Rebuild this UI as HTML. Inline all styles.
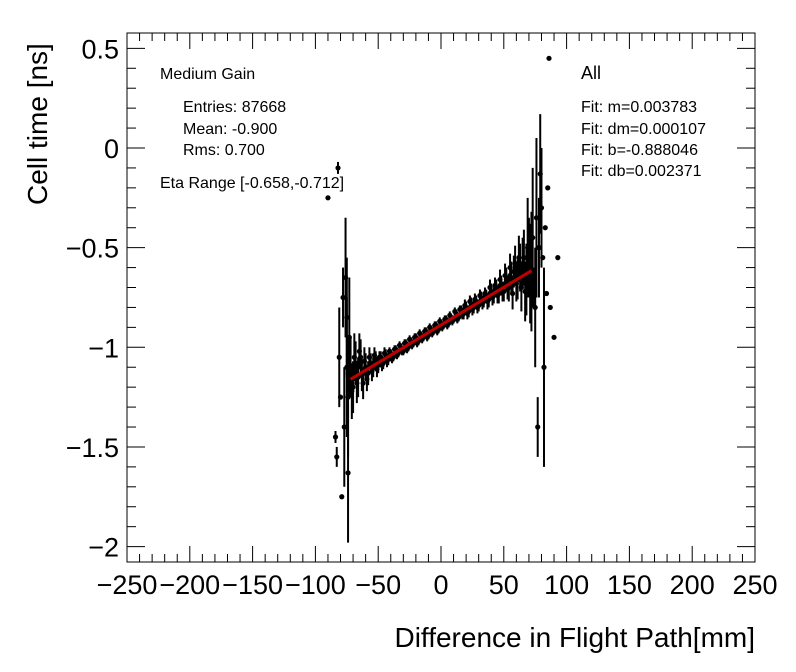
<!DOCTYPE html>
<html><head><meta charset="utf-8"><style>
body{margin:0;background:#fff;}
svg{display:block;font-family:"Liberation Sans",sans-serif;}
</style></head><body>
<svg id="c" width="796" height="672">
<rect x="0" y="0" width="796" height="672" fill="#fff"/>
<g id="axes"></g><g id="marks"></g>
<g font-size="16" fill="#000">
<text x="160" y="79">Medium Gain</text>
<text x="183" y="112">Entries: 87668</text>
<text x="183" y="134">Mean: -0.900</text>
<text x="183" y="155">Rms: 0.700</text>
<text x="160" y="188">Eta Range [-0.658,-0.712]</text>
<text x="581" y="79" font-size="18">All</text>
<text x="581" y="112">Fit: m=0.003783</text>
<text x="581" y="134">Fit: dm=0.000107</text>
<text x="581" y="155">Fit: b=-0.888046</text>
<text x="581" y="176">Fit: db=0.002371</text>
</g>
<text x="755" y="647" font-size="28" text-anchor="end">Difference in Flight Path[mm]</text>
<text transform="translate(47,205) rotate(-90)" font-size="28" text-anchor="start">Cell time [ns]</text>
</svg>
<script>
const xTicks=[-250,-200,-150,-100,-50,0,50,100,150,200,250];
const yTicks=[0.5,0,-0.5,-1,-1.5,-2];
const yTickLabels=["0.5","0","\u22120.5","\u22121","\u22121.5","\u22122"];
const xTickLabels=["\u2212250","\u2212200","\u2212150","\u2212100","\u221250","0","50","100","150","200","250"];
const px=[-90,-84,-83,-82,-81,-80,-79,-78,-77,-76,-75,-75,-74,-74,-73,
-72,-71,-70,-69,-68,-67,-66,-65,-64,-63,-62,-61,-60,-59,-58,-57,-56,-55,-54,-53,-52,-51,-50,-49,-48,-47,-46,-45,-44,-43,-42,-41,-40,-39,-38,-37,-36,-35,-34,-33,-32,-31,-30,-29,-28,-27,-26,-25,-24,-23,-22,-21,-20,-19,-18,-17,-16,-15,-14,-13,-12,-11,-10,-9,-8,-7,-6,-5,-4,-3,-2,-1,0,1,2,3,4,5,6,7,8,9,10,11,12,13,14,15,16,17,18,19,20,21,22,23,24,25,26,27,28,29,30,31,32,33,34,35,36,37,38,39,40,41,42,43,44,45,46,47,48,49,50,51,52,53,54,55,56,57,58,59,60,61,62,63,64,65,66,67,68,69,70,71,72,
73,74,75,76,77,78,79,80,81,82,83,84,85,86,87,90,93,95];
const py=[-0.25,-1.45,-1.55,-0.10,-1.05,-1.25,-1.75,-0.75,-1.40,-0.65,-1.10,-0.85,-1.63,-1.25,-0.95,
-1.10,-1.22,-1.20,-1.05,-1.08,-1.18,-1.15,-1.02,-1.05,-1.14,-1.18,-1.07,-1.10,-1.16,-1.13,-1.05,-1.08,-1.12,-1.10,-1.04,-1.06,-1.11,-1.09,-1.05,-1.05,-1.09,-1.08,-1.03,-1.04,-1.07,-1.06,-1.02,-1.03,-1.06,-1.05,-1.01,-1.01,-1.04,-1.03,-0.99,-1.00,-1.02,-1.02,-0.98,-0.98,-1.01,-1.00,-0.96,-0.97,-0.99,-0.98,-0.95,-0.95,-0.98,-0.97,-0.93,-0.94,-0.96,-0.95,-0.92,-0.92,-0.95,-0.94,-0.90,-0.91,-0.93,-0.92,-0.89,-0.89,-0.92,-0.91,-0.87,-0.88,-0.90,-0.89,-0.86,-0.86,-0.89,-0.88,-0.84,-0.85,-0.87,-0.86,-0.82,-0.83,-0.86,-0.85,-0.81,-0.81,-0.84,-0.83,-0.79,-0.80,-0.83,-0.82,-0.77,-0.78,-0.81,-0.80,-0.76,-0.77,-0.80,-0.79,-0.74,-0.75,-0.78,-0.77,-0.73,-0.74,-0.77,-0.76,-0.70,-0.72,-0.75,-0.74,-0.69,-0.70,-0.74,-0.73,-0.66,-0.69,-0.72,-0.72,-0.64,-0.66,-0.70,-0.70,-0.60,-0.65,-0.73,-0.62,-0.58,-0.68,-0.66,-0.55,-0.60,-0.70,-0.58,-0.55,-0.72,-0.66,-0.50,-0.55,-0.63,
-0.62,-0.45,-0.70,-0.80,-0.35,-1.40,-0.50,-0.13,-0.30,-0.55,-1.10,-0.40,-0.73,-0.20,0.45,-0.80,-0.95,-0.55];
const pe=[0,0.03,0.05,0.03,0.25,0,0,0.15,0.30,0.30,0.35,0.30,0.35,0.30,0.30,
0.15,0.14,0.13,0.12,0.11,0.10,0.10,0.09,0.09,0.08,0.08,0.07,0.07,0.06,0.06,0.05,0.05,0.05,0.05,0.04,0.04,0.04,0.04,0.03,0.03,0.03,0.03,0.03,0.03,0.03,0.03,0.02,0.02,0.02,0.02,0.02,0.02,0.02,0.02,0.02,0.02,0.02,0.02,0.02,0.02,0.02,0.02,0.02,0.02,0.02,0.02,0.02,0.02,0.02,0.02,0.02,0.02,0.02,0.02,0.02,0.02,0.02,0.02,0.02,0.02,0.02,0.02,0.02,0.02,0.02,0.02,0.02,0.02,0.02,0.02,0.02,0.02,0.02,0.02,0.02,0.02,0.02,0.02,0.02,0.02,0.02,0.02,0.02,0.02,0.02,0.03,0.03,0.03,0.03,0.03,0.03,0.03,0.03,0.03,0.03,0.03,0.03,0.03,0.03,0.03,0.03,0.03,0.03,0.03,0.04,0.04,0.04,0.04,0.04,0.04,0.04,0.04,0.04,0.05,0.05,0.05,0.05,0.05,0.06,0.06,0.06,0.07,0.07,0.08,0.08,0.08,0.09,0.09,0.10,0.11,0.12,0.12,0.13,0.14,
0.15,0.18,0.25,0.20,0.25,0.30,0.35,0.10,0.30,0.40,0.15,0.25,0.30,0.30,0,0.50,0,0];
const fitM=0.003783, fitB=-0.888046, fitRange=[-72,72];
const L=127,R=755,T=33,B=562;
const X=v=>441+v*1.256;
const Y=v=>148-v*199.3;
const NS="http://www.w3.org/2000/svg";
function mk(tag,at,parent){const e=document.createElementNS(NS,tag);for(const k in at)e.setAttribute(k,at[k]);parent.appendChild(e);return e;}
const ax=document.getElementById('axes'), mg=document.getElementById('marks');
const frame=mk('rect',{x:L,y:T,width:R-L,height:B-T,fill:'none',stroke:'#000','stroke-width':1},ax);


for(let v=-250;v<=250;v+=10){const maj=v%50===0;const h=maj?16:8;const xx=X(v);
const t1=mk('line',{x1:xx,x2:xx,y1:B,y2:B-h,stroke:'#000'},ax);


const t2=mk('line',{x1:xx,x2:xx,y1:T,y2:T+h,stroke:'#000'},ax);

}
for(let i=-21;i<=5;i++){const v=i/10;const yy=Y(v);if(yy<T||yy>B)continue;const maj=i%5===0;const h=maj?18:9;
const t1=mk('line',{x1:L,x2:L+h,y1:yy,y2:yy,stroke:'#000'},ax);


const t2=mk('line',{x1:R,x2:R-h,y1:yy,y2:yy,stroke:'#000'},ax);

}
xTicks.forEach((v,i)=>{const t=mk('text',{x:X(v),y:594,'font-size':27,'text-anchor':'middle'},ax);t.textContent=xTickLabels[i];

});
yTicks.forEach((v,i)=>{const t=mk('text',{x:119,y:Y(v)+10,'font-size':27,'text-anchor':'end'},ax);t.textContent=yTickLabels[i];

});
px.forEach((x,i)=>{if(!isFinite(py[i]))return;const cx=X(x),cy=Y(py[i]);const e=pe[i]||0;
if(e>0){const l=mk('line',{x1:cx,x2:cx,y1:Y(py[i]+e),y2:Y(py[i]-e),stroke:'#000','stroke-width':2},mg);

}
const c=mk('circle',{cx:cx,cy:cy,r:2.6,fill:'#000'},mg);

});
const fl=mk('line',{x1:X(fitRange[0]),y1:Y(fitB+fitM*fitRange[0]),x2:X(fitRange[1]),y2:Y(fitB+fitM*fitRange[1]),stroke:'#c00000','stroke-width':3},mg);


</script>
</body></html>
